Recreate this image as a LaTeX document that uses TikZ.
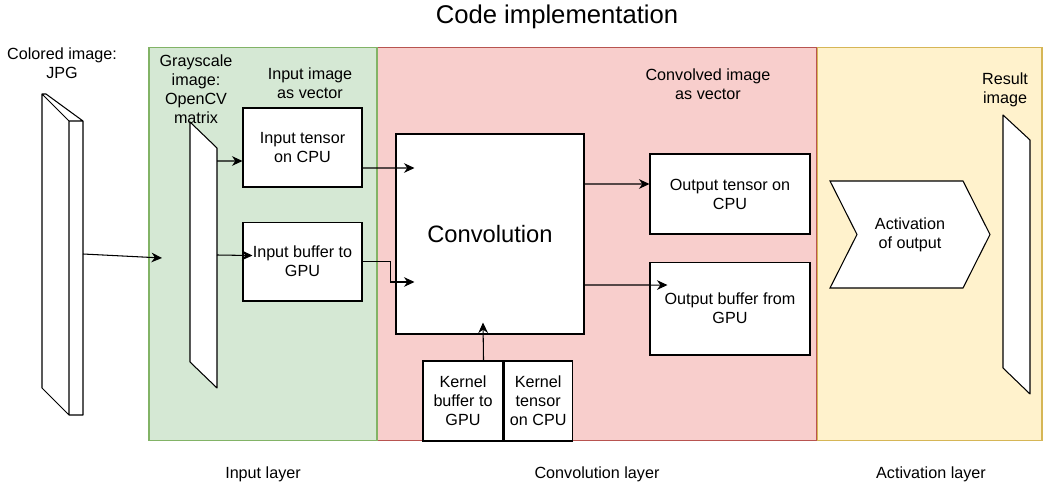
\documentclass[tikz,border=0pt]{standalone}
\usepackage{fontspec}
\setmainfont{Liberation Sans}
\usetikzlibrary{arrows.meta, positioning, shapes.symbols}
\definecolor{inputfill}{HTML}{D5E8D4}
\definecolor{inputline}{HTML}{82B366}
\definecolor{convfill}{HTML}{F8CECC}
\definecolor{convline}{HTML}{B85450}
\definecolor{actfill}{HTML}{FFF2CC}
\definecolor{actline}{HTML}{D6B656}
\tikzset{
    layer/.style={
        draw,
        line width=0.6pt,
        minimum height=7.88cm,
        inner sep=0pt
    },
    box/.style={
        draw,
        fill=white,
        line width=0.6pt,
        minimum width=2.38cm,
        minimum height=1.58cm,
        align=center
    },
    kernelbox/.style={
        box,
        minimum width=1.6cm,
        minimum height=1.6cm
    },
    chevron/.style={
        signal,
        signal to=east,
        signal from=west,
        signal pointer angle=126.5,
        draw,
        fill=white,
        line width=0.6pt,
        minimum width=3.2cm,
        minimum height=2.14cm,
        inner sep=0pt,
        align=center
    },
    plane/.style={draw, fill=white, line width=0.6pt, line join=round},
    line/.style={-{Stealth[length=6pt, width=5.5pt]}, line width=0.6pt},
    caption/.style={align=center},
    every node/.style={font=\fontsize{9.2}{10.8}\selectfont}
}
\begin{document}
\begin{tikzpicture}[x=0.02cm, y=-0.02cm, node distance=0.5cm]
\useasboundingbox (0,0) rectangle (1044,486);

\node[layer, fill=convfill, draw=convline, minimum width=8.8cm] (convlayer) at (597,244) {};
\node[layer, fill=inputfill, draw=inputline, minimum width=4.56cm] (inlayer) at (263,244) {};
\node[layer, fill=actfill, draw=actline, minimum width=4.5cm] (actlayer) at (929.5,244) {};

\node[font=\fontsize{14.6}{17}\selectfont] (title) at (557,17) {Code implementation};
\node (inlabel) at (263,474) {Input layer};
\node (convlabel) at (597,474) {Convolution layer};
\node (actlabel) at (931,474) {Activation layer};

\node[caption] (jpglabel) at (62,63) {Colored image:\\JPG};
\node[caption] (graylabel) at (196,89) {Grayscale\\image:\\OpenCV\\matrix};
\node[caption] (veclabel) at (310,83) {Input image\\as vector};
\node[caption] (convveclabel) at (708,84) {Convolved image\\as vector};
\node[caption] (resultlabel) at (1005,90) {Result\\image};

\draw[plane] (42,94) -- (46,94) -- (83,121) -- (83,415) -- (69,415) -- (42,388) -- cycle
    (42,94) -- (69,121) -- (83,121) (69,121) -- (69,415);
\draw[plane] (190,122) -- (217,148) -- (217,388) -- (190,362) -- cycle;
\draw[plane] (1003,115) -- (1030,140) -- (1030,394) -- (1003,368) -- cycle;

\coordinate (jpgout) at (83,254);
\coordinate (grayin) at (162,258);
\coordinate (grayout1) at (217,161);
\coordinate (grayout2) at (217,255);

\node[box] (intensor) at (302.5,147.5) {Input tensor\\on CPU};
\node[box, below=0.68cm of intensor] (inbuf) {Input buffer to\\GPU};
\node[box, minimum width=3.76cm, minimum height=4cm, font=\fontsize{13.5}{16}\selectfont] (conv) at (490,234) {Convolution};
\node[kernelbox] (kbuf) at (463,401) {Kernel\\buffer to\\GPU};
\node[kernelbox, minimum width=1.32cm, right=0pt of kbuf] (ktensor) {Kernel\\tensor\\on CPU};
\node[box, minimum width=3.2cm, minimum height=1.6cm] (outtensor) at (730,194) {Output tensor on\\CPU};
\node[box, minimum width=3.2cm, minimum height=1.86cm, below=0.54cm of outtensor] (outbuf) {Output buffer from\\GPU};
\node[chevron] (act) at (910,234.5) {Activation\\of output};

\draw[line] (jpgout) -- (grayin);
\draw[line] (grayout1) -- ([yshift=-0.27cm]intensor.west);
\draw[line] (grayout2) -- ([xshift=0.2cm, yshift=0.12cm]inbuf.west);
\draw[line] ([yshift=-0.41cm]intensor.east) -- ([xshift=0.38cm, yshift=1.32cm]conv.west);
\draw[line] (inbuf.east) -- ++(28,0) |- ([xshift=0.38cm, yshift=-0.96cm]conv.west);
\draw[line] ([xshift=-0.4cm]kbuf.north east) -- ([xshift=-0.14cm, yshift=0.24cm]conv.south);
\draw[line] ([yshift=1cm]conv.east) -- ([yshift=0.2cm]outtensor.west);
\draw[line] ([yshift=-1.02cm]conv.east) -- ([xshift=0.36cm, yshift=0.47cm]outbuf.west);
\end{tikzpicture}
\end{document}
